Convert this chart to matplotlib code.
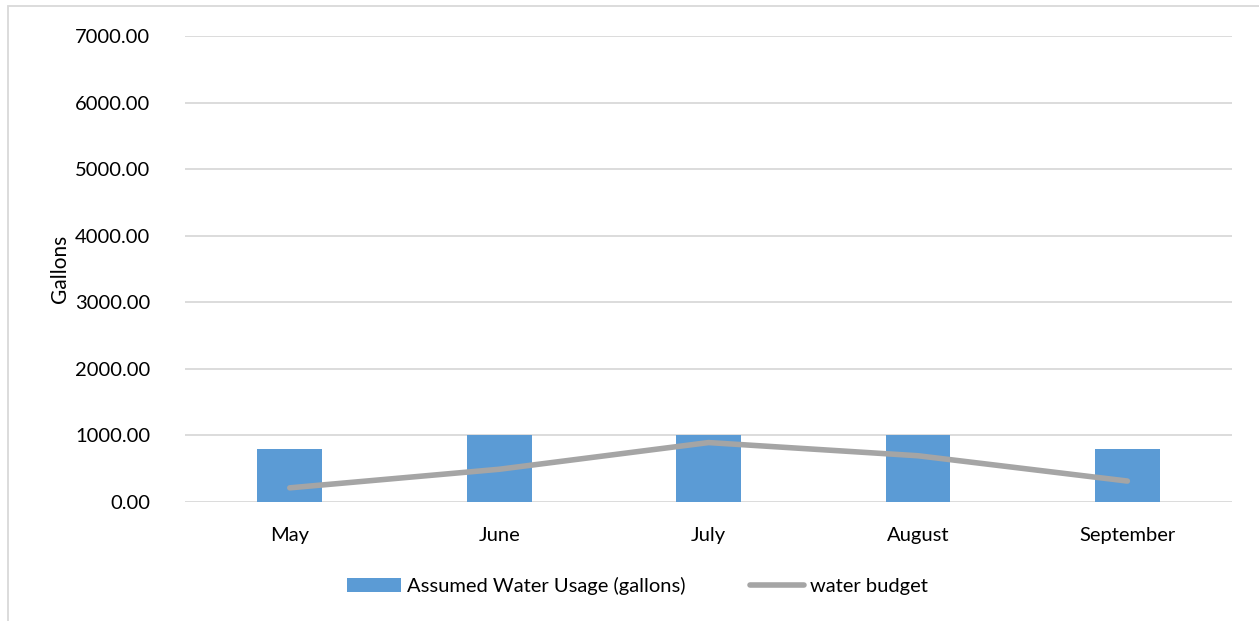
import matplotlib
matplotlib.use('Agg')
import matplotlib.pyplot as plt
from matplotlib.patches import Rectangle
import numpy as np

plt.rcParams['font.family'] = ['Lato', 'DejaVu Sans']

# ── Data ──────────────────────────────────────────────────────────────
months = ['May', 'June', 'July', 'August', 'September']
water_usage = [800, 1000, 1000, 1000, 800]
water_budget = [213, 492, 893, 695, 315]
y_ticks = [0, 1000, 2000, 3000, 4000, 5000, 6000, 7000]

bar_color = '#5B9BD5'
line_color = '#A5A5A5'
grid_color = '#D9D9D9'

fig = plt.figure(figsize=(12.59, 6.21), dpi=100)
ax = fig.add_axes([0.147, 0.1916, 0.8316, 0.7504])

x = np.arange(len(months))
bars = ax.bar(x, water_usage, width=0.31, color=bar_color, zorder=2,
              label='Assumed Water Usage (gallons)')
line, = ax.plot(x, water_budget, color=line_color, linewidth=4,
                solid_capstyle='round', zorder=3, label='water budget')

ax.set_xlim(-0.5, len(months) - 0.5)
ax.set_ylim(0, 7000)
ax.set_yticks(y_ticks)
ax.set_yticklabels([f'{v:.2f}' for v in y_ticks])
ax.set_xticks(x)
ax.set_xticklabels(months)
ax.tick_params(axis='both', length=0, labelsize=14.5, colors='black')
ax.tick_params(axis='y', pad=25)
ax.tick_params(axis='x', pad=18)
ax.grid(axis='y', color=grid_color, linewidth=1.3, zorder=0)
ax.set_axisbelow(True)
for s in ax.spines.values():
    s.set_visible(False)
ax.set_ylabel('Gallons', fontsize=15, labelpad=4)

ax.legend(handles=[bars, line], loc='upper center',
          bbox_to_anchor=(0.432, -0.122), ncol=2,
          frameon=False, fontsize=14.5, handlelength=2.7, handletextpad=0.3,
          columnspacing=3.2)

# light frame around the chart area
fig.patches.append(Rectangle((8 / 1259, -0.01), 1.1, 1 - 6 / 621 + 0.01,
                             transform=fig.transFigure, fill=False,
                             edgecolor='#D9D9D9', linewidth=1.3))

plt.savefig('out.png', dpi=100)
plt.close()
